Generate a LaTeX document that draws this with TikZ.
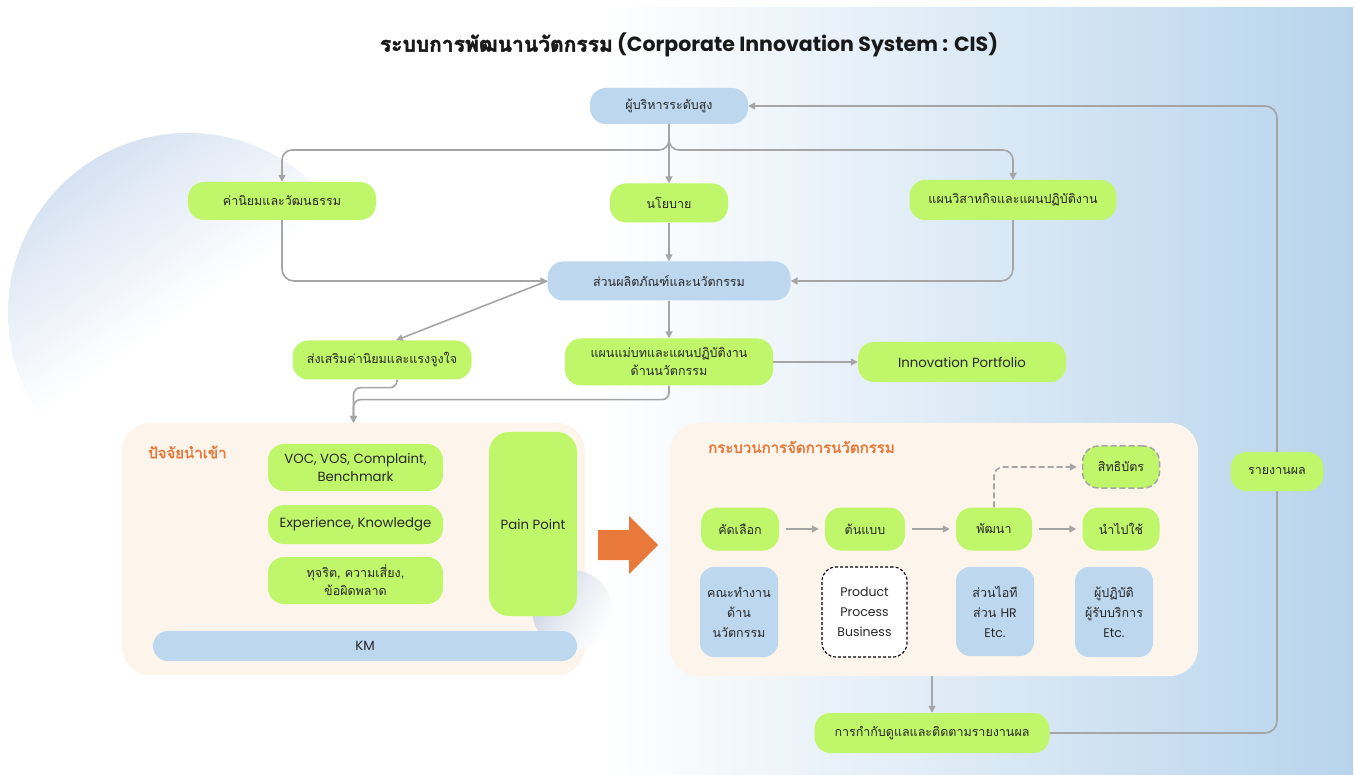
\documentclass[tikz,border=0pt]{standalone}
\usepackage{fontspec}
\setmainfont{Poppins}
\newfontfamily\thx[Script=Thai]{Loma}
\newfontfamily\thxb[Script=Thai, FakeBold=2.2]{Loma}
\usetikzlibrary{arrows.meta}
\definecolor{gfill}{RGB}{192,246,106}
\definecolor{bfill}{RGB}{189,215,238}
\definecolor{cream}{RGB}{253,245,235}
\definecolor{orng}{RGB}{232,121,58}
\definecolor{lgray}{RGB}{165,165,165}
\definecolor{txt}{RGB}{40,40,40}
\definecolor{bgblue}{RGB}{184,212,236}
\definecolor{circblue}{RGB}{214,226,242}
\definecolor{smallcirc}{RGB}{200,210,225}
\pgfdeclarelayer{back}
\pgfdeclarelayer{conn}
\pgfsetlayers{back,conn,main}
\begin{document}
\begin{tikzpicture}[x=1pt,y=-1pt,
  sz/.style 2 args={minimum width=#1pt, minimum height=#2pt},
  box/.style={rounded corners=16pt, inner sep=0pt, align=center, text=txt,
              font=\thx\fontsize{12.5}{18}\selectfont},
  gbox/.style={box, fill=gfill},
  bbox/.style={box, fill=bfill},
  lat/.style={font=\rmfamily\fontsize{13.3}{18}\selectfont},
  conn/.style={draw=lgray, line width=1.6pt, -{Triangle[length=7pt,width=7pt]}},
  ctitle/.style={anchor=west, inner sep=0pt, text=orng, font=\thxb\fontsize{15}{17}\selectfont},
  container/.style={fill=cream, rounded corners=28pt, inner sep=0pt}
]
\useasboundingbox (0,0) rectangle (1355,775);

% ---------- background ----------
\begin{pgfonlayer}{back}
\fill[white] (0,0) rectangle (1355,775);
\shade[left color=white, right color=bgblue] (600,8) rectangle (1353,775);
\shade[top color=circblue, bottom color=white, middle color=white, shading angle=35] (188,313) circle (180pt);
\node[container, sz={463}{252}] (inbox) at (353.5,549) {};
\node[container, sz={528}{253}] (procbox) at (934,549.5) {};
\shade[top color=smallcirc, bottom color=white, middle color=smallcirc!40, shading angle=60] (572,610) circle (40pt);
\end{pgfonlayer}

% ---------- title ----------
\node[text=black!90, font=\rmfamily\bfseries\fontsize{20.5}{24}\selectfont] (title) at (689,45)
  {{\thxb\fontsize{21}{24}\selectfont ระบบการพัฒนานวัตกรรม} (Corporate Innovation System : CIS)};

% ---------- upper flow ----------
\node[bbox, sz={158}{36}] (top) at (669,106) {ผู้บริหารระดับสูง};
\node[gbox, sz={188}{38}] (kn) at (282,201) {ค่านิยมและวัฒนธรรม};
\node[gbox, sz={118}{39}] (np) at (669,203) {นโยบาย};
\node[gbox, sz={207}{40}] (plan) at (1013,200) {แผนวิสาหกิจและแผนปฏิบัติงาน};
\node[bbox, sz={243}{39}] (pr) at (669,281) {ส่วนผลิตภัณฑ์และนวัตกรรม};
\node[gbox, sz={179}{39}] (ss) at (382,360) {ส่งเสริมค่านิยมและแรงจูงใจ};
\node[gbox, sz={208}{47}] (mp) at (669,362) {แผนแม่บทและแผนปฏิบัติงาน\\ด้านนวัตกรรม};
\node[gbox, lat, sz={208}{40}] (port) at (962,362) {Innovation Portfolio};

% ---------- input box ----------
\node[ctitle] (intitle) at (148,452) {ปัจจัยนำเข้า};
\node[gbox, lat, sz={175}{47}] (voc) at (355.5,467.5) {VOC, VOS, Complaint,\\Benchmark};
\node[gbox, lat, sz={175}{39}] (exp) at (355.5,524.5) {Experience, Knowledge};
\node[gbox, sz={175}{47}] (risk) at (355.5,580.5) {ทุจริต, ความเสี่ยง,\\ข้อผิดพลาด};
\node[gbox, lat, sz={88}{184}, rounded corners=20pt] (pain) at (533,524) {Pain Point};
\node[bbox, lat, sz={424}{30}, rounded corners=15pt] (km) at (365,646) {KM};

% ---------- big orange arrow ----------
\fill[orng] (598,530) -- (629,530) -- (629,516) -- (658,545) -- (629,574) -- (629,560) -- (598,560) -- cycle;

% ---------- process box ----------
\node[ctitle] (proctitle) at (708,447) {กระบวนการจัดการนวัตกรรม};
\node[gbox, sz={78}{43}] (sel) at (740,529) {คัดเลือก};
\node[gbox, sz={80}{43}] (proto) at (865,529) {ต้นแบบ};
\node[gbox, sz={76}{43}] (dev) at (994,529) {พัฒนา};
\node[gbox, sz={77}{43}] (use) at (1121,529) {นำไปใช้};
\node[gbox, sz={77}{42}, draw=lgray, dash pattern=on 6pt off 3pt, line width=1.5pt] (pat) at (1121,467) {สิทธิบัตร};
\node[bbox, sz={78}{90}, rounded corners=14pt, font=\thx\fontsize{12.5}{20}\selectfont] (team) at (739,612) {คณะทำงาน\\ด้าน\\นวัตกรรม};
\node[box, sz={85}{90}, rounded corners=14pt, fill=white, draw=black, dash pattern=on 3pt off 2pt, line width=1.1pt, font=\rmfamily\fontsize{12.5}{20}\selectfont] (ppb) at (864.5,612) {Product\\Process\\Business};
\node[bbox, sz={78}{89}, rounded corners=14pt, font=\thx\fontsize{12.5}{20}\selectfont] (it) at (995,611.5) {ส่วนไอที\\ส่วน {\rmfamily\fontsize{12.5}{20}\selectfont HR}\\{\rmfamily\fontsize{12.5}{20}\selectfont Etc.}};
\node[bbox, sz={78}{90}, rounded corners=14pt, font=\thx\fontsize{12.5}{20}\selectfont] (user) at (1114,612) {ผู้ปฏิบัติ\\ผู้รับบริการ\\{\rmfamily\fontsize{12.5}{20}\selectfont Etc.}};

% ---------- bottom / report ----------
\node[gbox, sz={235}{40}] (gov) at (932,733) {การกำกับดูแลและติดตามรายงานผล};
\node[gbox, sz={93}{39}] (rep) at (1277,471.5) {รายงานผล};

% ---------- connectors ----------
\begin{pgfonlayer}{conn}
\coordinate (j) at (669,150);
\draw[conn, rounded corners=10pt] (top.south) |- (kn.north |- j) -- (kn.north);
\draw[conn] (top.south) -- (np.north);
\draw[conn, rounded corners=10pt] (top.south) |- (plan.north |- j) -- (plan.north);
\draw[conn, rounded corners=12pt] (kn.south) |- (pr.west);
\draw[conn] (np.south) -- (pr.north);
\draw[conn, rounded corners=12pt] (plan.south) |- (pr.east);
\draw[conn] (pr.west) -- ([xshift=14pt]ss.north);
\draw[conn] (pr.south) -- (mp.north);
\draw[conn] (mp.east) -- (port.west);
\draw[conn, rounded corners=7pt] ([xshift=15pt]ss.south) -- ++(0,8) -| (inbox.north);
\draw[conn, rounded corners=7pt] (mp.south) -- ++(0,14) -| (inbox.north);
\draw[conn, shorten <=7pt, shorten >=6pt] (sel.east) -- (proto.west);
\draw[conn, shorten <=7pt, shorten >=6pt] (proto.east) -- (dev.west);
\draw[conn, shorten <=7pt, shorten >=6pt] (dev.east) -- (use.west);
\draw[conn, dash pattern=on 6pt off 3pt, rounded corners=9pt, shorten >=5pt] (dev.north) |- (pat.west);
\draw[conn] (gov.north |- procbox.south) -- (gov.north);
\draw[conn, rounded corners=12pt] (gov.east) -| (rep.center) |- (top.east);
\end{pgfonlayer}
\end{tikzpicture}
\end{document}
